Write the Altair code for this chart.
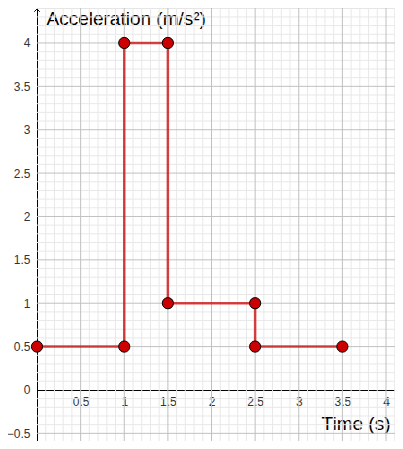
import altair as alt
import pandas as pd

# ---- data ----
time_s = [0, 1, 1, 1.5, 1.5, 2.5, 2.5, 3.5]
accel = [0.5, 0.5, 4, 4, 1, 1, 0.5, 0.5]

x_ticks = [0.5, 1, 1.5, 2, 2.5, 3, 3.5, 4]
y_ticks = [-0.5, 0, 0.5, 1, 1.5, 2, 2.5, 3, 3.5, 4]

x_minor = [round(i / 10, 1) for i in range(1, 42) if i % 5]
y_minor = [round(i / 10, 1) for i in range(-5, 45) if i % 5]
x_major = list(x_ticks)
y_major = [v for v in y_ticks if v != 0]

PLOT_W = 358
PLOT_H = 433
X_DOMAIN = [0, PLOT_W / 87.25]
Y_DOMAIN = [4.403 - PLOT_H / 86.75, 4.403]

FONT = "Liberation Sans"

xs = alt.Scale(domain=X_DOMAIN, nice=False, zero=False)
ys = alt.Scale(domain=Y_DOMAIN, nice=False, zero=False)

X_OFFSET = -round(PLOT_H - 4.403 * 86.75)

xaxis = alt.Axis(
    values=x_ticks, format=".1~f", grid=False, ticks=False,
    domainColor="black", domainWidth=1, offset=X_OFFSET,
    labelPadding=6, labelFont=FONT, labelFontSize=12, labelColor="#333333",
    title="Time (s)", titleFont=FONT, titleFontSize=19, titleFontWeight="normal",
    titleColor="black", titleX=353, titleY=39, titleAlign="right",
    titleBaseline="alphabetic", titleAngle=0, zindex=0,
)
yaxis = alt.Axis(
    values=y_ticks, format=".1~f", grid=False, ticks=False,
    domainColor="black", domainWidth=1,
    labelPadding=7, labelFont=FONT, labelFontSize=12, labelColor="#333333",
    labelBaseline="middle",
    title="Acceleration (m/s²)", titleFont=FONT, titleFontSize=19,
    titleFontWeight="normal", titleColor="black", titleX=9, titleY=16,
    titleAlign="left", titleBaseline="alphabetic", titleAngle=0, zindex=0,
)

df = pd.DataFrame({"t": time_s, "a": accel, "i": list(range(len(time_s)))})

vminor = alt.Chart(pd.DataFrame({"x": x_minor})).mark_rule(color="#e8e8e8", strokeWidth=1).encode(
    x=alt.X("x:Q", scale=xs, axis=xaxis))
hminor = alt.Chart(pd.DataFrame({"y": y_minor})).mark_rule(color="#e8e8e8", strokeWidth=1).encode(
    y=alt.Y("y:Q", scale=ys, axis=yaxis))
vmajor = alt.Chart(pd.DataFrame({"x": x_major})).mark_rule(color="#c0c0c0", strokeWidth=1).encode(
    x=alt.X("x:Q", scale=xs, axis=xaxis))
hmajor = alt.Chart(pd.DataFrame({"y": y_major})).mark_rule(color="#c0c0c0", strokeWidth=1).encode(
    y=alt.Y("y:Q", scale=ys, axis=yaxis))

line = alt.Chart(df).mark_line(color="#cc0000", opacity=0.72, strokeWidth=2.5).encode(
    x=alt.X("t:Q", scale=xs, axis=xaxis),
    y=alt.Y("a:Q", scale=ys, axis=yaxis),
    order="i:Q",
)
pts = alt.Chart(df).mark_point(filled=True, fill="#cc0000", stroke="black", strokeWidth=1,
                               size=125, opacity=1, fillOpacity=1).encode(
    x=alt.X("t:Q", scale=xs, axis=xaxis),
    y=alt.Y("a:Q", scale=ys, axis=yaxis),
)
arrow = alt.Chart(pd.DataFrame({"k": [0]})).mark_point(
    shape="M-1,1L0,0L1,1", filled=False, stroke="black", strokeWidth=1, size=30, opacity=1
).encode(x=alt.value(0), y=alt.value(1))

chart = alt.layer(vminor, hminor, vmajor, hmajor, line, pts, arrow).properties(
    width=PLOT_W, height=PLOT_H,
    autosize=alt.AutoSizeParams(type="none"),
    padding={"left": 29, "top": 0, "right": 0, "bottom": 0},
).configure_view(stroke=None).configure(background="white")

chart.save("out.html", embed_options={"renderer": "svg", "actions": False})
